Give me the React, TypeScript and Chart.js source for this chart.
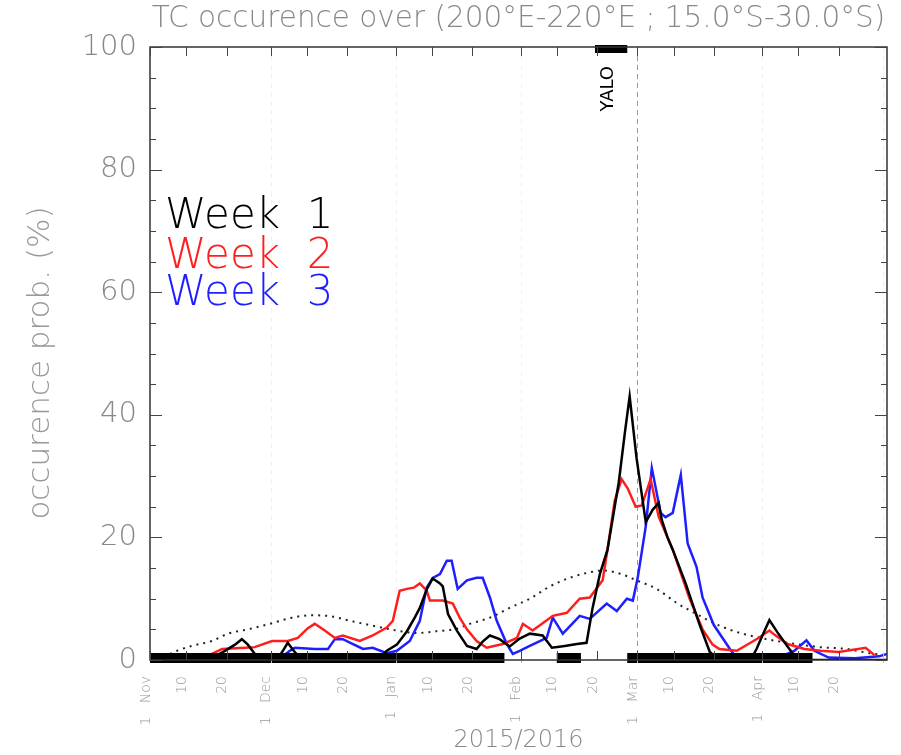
import React, { useEffect, useRef } from "react";
import { Chart, registerables } from "chart.js";
Chart.register(...registerables);

// ---- axis / tick data ----
const tickDays = [0, 9, 19, 30, 39, 49, 61, 70, 80, 92, 101, 111, 121, 130, 140, 152, 161, 171];
const tickLabels = ["1   Nov", "10", "20", "1   Dec", "10", "20", "1   Jan", "10", "20", "1   Feb", "10", "20", "1   Mar", "10", "20", "1   Apr", "10", "20"];
const monthStartDays = [30, 61, 92, 121, 152, 182];
const markerDay = 121;
const yMajor = [0, 20, 40, 60, 80, 100];

// ---- series (day since 1 Nov 2015, occurrence %) ----
const week1Days = [0, 15.4, 18.6, 21.1, 22.8, 24.3, 26, 27.8, 31.8, 33, 34.2, 35.7, 37.2, 57, 58.8, 61.3, 63.8, 65.8, 67, 68.7, 70.2, 72, 72.7, 74, 76.2, 78.7, 81.1, 82.6, 84.4, 86.8, 89.3, 91.8, 94.3, 97.5, 99.8, 103, 106, 108.4, 109.9, 111.7, 113.6, 116.4, 117.9, 119.1, 120.8, 123.1, 124.8, 126.3, 127.1, 128.5, 129.8, 133, 136.5, 139, 141.4, 149.4, 150.6, 152.4, 153.8, 155.8, 158.3, 160.8, 183];
const week1Vals = [0, 0.3, 1.5, 2.5, 3.4, 2.5, 1.0, 0.3, 0.3, 1.5, 2.8, 1.5, 0.3, 0.3, 1.5, 2.5, 4.7, 7, 8.5, 11.5, 13.3, 12.5, 12, 7.5, 4.8, 2.3, 1.8, 3, 4, 3.4, 2.2, 3.5, 4.3, 4, 2, 2.3, 2.6, 2.8, 8.5, 14, 18, 29, 37, 43, 33, 22.5, 24.5, 25.6, 22.8, 20, 18, 12.5, 5.7, 1.3, 0, 0.3, 1.8, 4.5, 6.5, 4.5, 2.2, 0, 0];

const week2Days = [0, 13.6, 15.4, 17.9, 23.6, 26, 30.3, 34.2, 36.7, 39.2, 40.9, 43.4, 45.9, 47.9, 52.1, 55.3, 58.8, 60.3, 62, 63.8, 65.5, 67, 68.7, 69.5, 72.7, 75.2, 76.9, 78.7, 81.1, 83.6, 87.6, 91.1, 92.6, 95, 97.5, 100, 103.5, 106.7, 109.2, 112.4, 113.6, 115.4, 117.1, 118.6, 120.6, 122.1, 124.3, 126.3, 129.8, 134, 137.2, 139.7, 141.4, 145.7, 150.9, 153.8, 155.1, 158.3, 162.5, 166.5, 171, 177.7, 179.9];
const week2Vals = [0, 0, 1, 1.8, 2, 2.1, 3.1, 3.1, 3.6, 5.2, 5.9, 4.8, 3.6, 4, 3.1, 4, 5.3, 6.4, 11.3, 11.6, 11.8, 12.5, 11.3, 9.7, 9.7, 9.2, 6.9, 5, 3.1, 2, 2.6, 3.6, 5.9, 4.8, 6, 7.2, 7.7, 10, 10.2, 13, 18, 26, 29.5, 28, 25, 25.2, 29.5, 23.4, 18, 10, 5, 2.5, 1.8, 1.5, 3.5, 4.8, 4.1, 2.6, 1.8, 1.5, 1.3, 2, 0.8];

const week3Days = [31.8, 34.7, 36, 40.9, 44.2, 45.9, 47.9, 50.4, 52.9, 55.3, 58.8, 61.3, 64.5, 67, 68.7, 70.2, 72, 73.7, 74.9, 76.4, 78.7, 81.1, 82.6, 84.4, 86.1, 88.6, 90.1, 91.8, 94.3, 98.5, 100, 102.5, 106.7, 109.2, 113.4, 115.9, 118.4, 119.9, 121.1, 123.1, 124.6, 126.8, 128, 129.8, 131.8, 133.5, 135.7, 137.2, 140, 144, 145.7, 156.3, 160, 163, 165, 168.5, 175, 181, 183];
const week3Vals = [0, 1.5, 2, 1.8, 1.8, 3.4, 3.4, 2.6, 1.8, 2, 1.1, 1.5, 3.1, 6.4, 11.8, 13.4, 14, 16.2, 16.2, 11.6, 13, 13.4, 13.4, 10.2, 6.4, 2.6, 1, 1.5, 2.3, 3.6, 6.9, 4.3, 7.2, 6.7, 9.2, 8, 10, 9.7, 13.4, 21.8, 31.3, 24, 23.3, 24, 30.2, 19, 15.2, 10.2, 5.7, 1.8, 0.3, 0.5, 1.5, 3.2, 1.5, 0.4, 0.3, 0.6, 1];

const climDays = [0, 2.5, 6.7, 10.4, 15.4, 19.4, 24.3, 30.3, 35.2, 40.2, 45.2, 49.6, 55.3, 61.3, 66.3, 71.2, 76.2, 79.4, 84.4, 89.3, 94.3, 99.3, 104.2, 109.2, 112.4, 116.6, 120.8, 125.8, 130.8, 135.7, 141.4, 147.1, 155.6, 166.3, 173, 178.7, 182.4];
const climVals = [0, 0.3, 1.5, 2.3, 3.1, 4.3, 5, 6, 6.9, 7.3, 7.1, 6.4, 5.6, 4.8, 4.4, 4.7, 5.1, 5.9, 6.9, 8.5, 10, 12, 13.4, 14.3, 14.6, 14.1, 13, 11.6, 9.3, 7.5, 5.6, 4.3, 3.1, 2.1, 1.8, 1.1, 0.8];

// observed TC periods (bottom bar) and named storm (top bar)
const obsStart = [0, 101, 118.5];
const obsEnd = [88, 107, 164.5];
const stormName = "YALO";
const stormStart = 110.5;
const stormEnd = 118.5;

const legendLabels = ["Week  1", "Week  2", "Week  3"];
const titleText = "TC occurence over (200°E-220°E ; 15.0°S-30.0°S)";
const yTitle = "occurence prob. (%)";
const xTitle = "2015/2016";

const COLORS = ["#000000", "#ff1e1e", "#1e1eff"];
const FONT = '"DejaVu Sans", sans-serif';

const pts = (d: number[], v: number[]) => d.map((x, i) => ({ x, y: v[i] }));

const overlay = {
  id: "overlay",
  beforeDraw(chart: any) {
    const { ctx, width, height } = chart;
    ctx.save();
    ctx.fillStyle = "#fff";
    ctx.fillRect(0, 0, width, height);
    ctx.restore();
  },
  beforeDatasetsDraw(chart: any) {
    const { ctx, chartArea: a, scales } = chart;
    const x = scales.x;
    ctx.save();
    ctx.lineWidth = 1;
    monthStartDays.forEach((d) => {
      const px = Math.round(x.getPixelForValue(d)) + 0.5;
      if (px > a.right - 1) return;
      ctx.strokeStyle = d === markerDay ? "#9a9a9a" : "#f1f1f1";
      ctx.setLineDash([5, 4]);
      ctx.beginPath();
      ctx.moveTo(px, a.top);
      ctx.lineTo(px, a.bottom);
      ctx.stroke();
    });
    ctx.restore();
  },
  afterDatasetsDraw(chart: any) {
    const { ctx, chartArea: a, scales } = chart;
    const x = scales.x;
    const y = scales.y;
    ctx.save();
    // bottom bars
    ctx.fillStyle = "#000";
    obsStart.forEach((s, i) => {
      const x0 = x.getPixelForValue(s);
      const x1 = x.getPixelForValue(obsEnd[i]);
      ctx.fillRect(x0, a.bottom - 7, x1 - x0, 10);
    });
    // month separators inside bar
    ctx.strokeStyle = "#bbb";
    ctx.lineWidth = 1;
    monthStartDays.forEach((d) => {
      const px = Math.round(x.getPixelForValue(d)) + 0.5;
      if (px > a.right - 1) return;
      ctx.beginPath();
      ctx.moveTo(px, a.bottom - 7);
      ctx.lineTo(px, a.bottom + 3);
      ctx.stroke();
    });
    // storm bar
    ctx.fillStyle = "#000";
    const s0 = x.getPixelForValue(stormStart);
    const s1 = x.getPixelForValue(stormEnd);
    ctx.fillRect(s0, a.top - 2, s1 - s0, 8);
    // frame
    ctx.strokeStyle = "#333";
    ctx.lineWidth = 1.5;
    ctx.strokeRect(a.left, a.top, a.right - a.left, a.bottom - a.top);
    // y ticks inward, both sides
    ctx.lineWidth = 1;
    ctx.strokeStyle = "#444";
    for (let v = 0; v <= 100; v += 5) {
      const py = Math.round(y.getPixelForValue(v)) + 0.5;
      const len = yMajor.includes(v) ? 12 : 6;
      ctx.beginPath();
      ctx.moveTo(a.left, py);
      ctx.lineTo(a.left + len, py);
      ctx.moveTo(a.right, py);
      ctx.lineTo(a.right - len, py);
      ctx.stroke();
    }
    // x ticks inward top and bottom
    tickDays.forEach((d) => {
      const px = Math.round(x.getPixelForValue(d)) + 0.5;
      ctx.beginPath();
      ctx.moveTo(px, a.top);
      ctx.lineTo(px, a.top + 9);
      ctx.moveTo(px, a.bottom);
      ctx.lineTo(px, a.bottom - 9);
      ctx.stroke();
    });
    // storm name
    ctx.save();
    ctx.translate((s0 + s1) / 2 - 3, a.top + 19);
    ctx.rotate(-Math.PI / 2);
    ctx.fillStyle = "#000";
    ctx.font = `18px ${FONT}`;
    ctx.textAlign = "right";
    ctx.textBaseline = "middle";
    ctx.fillText(stormName, 0, 0);
    ctx.restore();
    // legend
    ctx.font = `200 42px ${FONT}`;
    ctx.textAlign = "left";
    ctx.textBaseline = "alphabetic";
    const baselines = [228, 268, 305];
    legendLabels.forEach((t, i) => {
      ctx.fillStyle = COLORS[i];
      ctx.fillText(t, 165, baselines[i]);
    });
    // title
    ctx.fillStyle = "#888";
    ctx.font = `200 29.5px ${FONT}`;
    ctx.textAlign = "center";
    ctx.textBaseline = "middle";
    ctx.fillText(titleText, (a.left + a.right) / 2, 19);
    // x title
    ctx.font = `200 24px ${FONT}`;
    ctx.fillText(xTitle, (a.left + a.right) / 2, 741);
    // y title
    ctx.save();
    ctx.translate(41, 363);
    ctx.rotate(-Math.PI / 2);
    ctx.font = `200 31px ${FONT}`;
    ctx.fillStyle = "#999";
    ctx.fillText(yTitle, 0, 0);
    ctx.restore();
    ctx.restore();
  },
};

export default function App() {
  const ref = useRef<HTMLCanvasElement>(null);
  useEffect(() => {
    const chart = new Chart(ref.current as HTMLCanvasElement, {
      type: "line",
      data: {
        datasets: [
          { label: "Week 1", data: pts(week1Days, week1Vals), borderColor: COLORS[0], borderWidth: 2.5, pointRadius: 0 },
          { label: "Week 2", data: pts(week2Days, week2Vals), borderColor: COLORS[1], borderWidth: 2.5, pointRadius: 0 },
          { label: "Week 3", data: pts(week3Days, week3Vals), borderColor: COLORS[2], borderWidth: 2.5, pointRadius: 0 },
          { label: "Clim", data: pts(climDays, climVals), borderColor: "#222", borderWidth: 2, borderDash: [2, 5], pointRadius: 0, cubicInterpolationMode: "monotone" },
        ],
      } as any,
      options: {
        animation: false,
        responsive: false,
        devicePixelRatio: 1,
        layout: { padding: { top: 47, right: 14, left: 0, bottom: 0 } },
        plugins: { legend: { display: false }, title: { display: false }, tooltip: { enabled: false } },
        elements: { line: { tension: 0 } },
        scales: {
          x: {
            type: "linear",
            min: 0,
            max: 183,
            grid: { display: false, drawTicks: false },
            border: { display: false },
            afterBuildTicks: (scale: any) => {
              scale.ticks = tickDays.map((v) => ({ value: v }));
            },
            afterFit: (scale: any) => {
              scale.height = 95;
            },
            ticks: {
              autoSkip: false,
              maxRotation: 90,
              minRotation: 90,
              padding: 16,
              labelOffset: -4,
              color: "#999",
              font: { family: FONT, size: 14, weight: "200" as any },
              callback: (_v: any, i: number) => tickLabels[i],
            },
          },
          y: {
            min: 0,
            max: 100,
            grid: { display: false, drawTicks: false },
            border: { display: false },
            afterBuildTicks: (scale: any) => {
              scale.ticks = yMajor.map((v) => ({ value: v }));
            },
            afterFit: (scale: any) => {
              scale.width = 150;
            },
            ticks: {
              padding: 13,
              color: "#888",
              font: { family: FONT, size: 29, weight: "200" as any },
            },
          },
        },
      } as any,
      plugins: [overlay],
    });
    return () => chart.destroy();
  }, []);
  return (
    <div style={{ position: "fixed", left: 0, top: 0, width: 901, height: 755, background: "#fff" }}>
      <canvas ref={ref} width={901} height={755} style={{ display: "block", width: 901, height: 755 }} />
    </div>
  );
}
